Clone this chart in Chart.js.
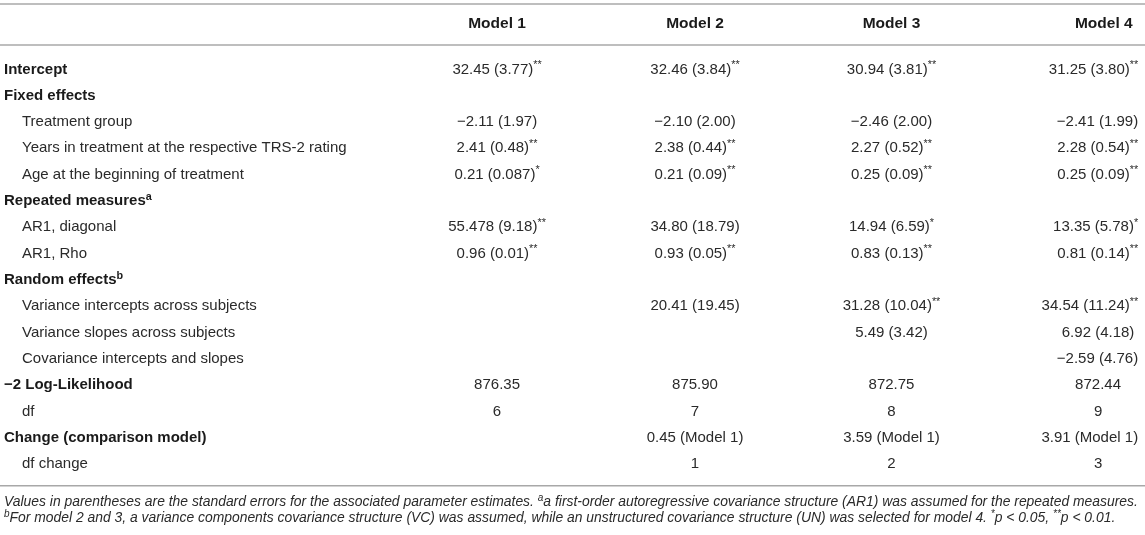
<!DOCTYPE html>
<html>
<head>
<meta charset="utf-8">
<script src="https://cdn.jsdelivr.net/npm/chart.js@4.4.1/dist/chart.umd.min.js"></script>
<style>
  html, body { margin: 0; padding: 0; background: #ffffff; }
  #wrap { width: 1145px; height: 535px; position: relative; }
</style>
</head>
<body>
<div id="wrap"><canvas id="c"></canvas></div>
<script>
// ---------- Data ----------
const models = ["Model 1", "Model 2", "Model 3", "Model 4"];

const rowLabels = [
  "Intercept",
  "Fixed effects",
  "Treatment group",
  "Years in treatment at the respective TRS-2 rating",
  "Age at the beginning of treatment",
  "Repeated measures^{a}",
  "AR1, diagonal",
  "AR1, Rho",
  "Random effects^{b}",
  "Variance intercepts across subjects",
  "Variance slopes across subjects",
  "Covariance intercepts and slopes",
  "\u22122 Log-Likelihood",
  "df",
  "Change (comparison model)",
  "df change"
];

// true = bold section heading, false = indented sub-row
const rowIsHeading = [true, true, false, false, false, true, false, false, true, false, false, false, true, false, true, false];

const model1 = ["32.45 (3.77)^{**}", "", "\u22122.11 (1.97)", "2.41 (0.48)^{**}", "0.21 (0.087)^{*}", "", "55.478 (9.18)^{**}", "0.96 (0.01)^{**}", "", "", "", "", "876.35", "6", "", ""];
const model2 = ["32.46 (3.84)^{**}", "", "\u22122.10 (2.00)", "2.38 (0.44)^{**}", "0.21 (0.09)^{**}", "", "34.80 (18.79)", "0.93 (0.05)^{**}", "", "20.41 (19.45)", "", "", "875.90", "7", "0.45 (Model 1)", "1"];
const model3 = ["30.94 (3.81)^{**}", "", "\u22122.46 (2.00)", "2.27 (0.52)^{**}", "0.25 (0.09)^{**}", "", "14.94 (6.59)^{*}", "0.83 (0.13)^{**}", "", "31.28 (10.04)^{**}", "5.49 (3.42)", "", "872.75", "8", "3.59 (Model 1)", "2"];
const model4 = ["31.25 (3.80)^{**}", "", "\u22122.41 (1.99)", "2.28 (0.54)^{**}", "0.25 (0.09)^{**}", "", "13.35 (5.78)^{*}", "0.81 (0.14)^{**}", "", "34.54 (11.24)^{**}", "6.92 (4.18)", "\u22122.59 (4.76)", "872.44", "9", "3.91 (Model 1)", "3"];

const footnotes = [
  "Values in parentheses are the standard errors for the associated parameter estimates. ^{a}a first-order autoregressive covariance structure (AR1) was assumed for the repeated measures.",
  "^{b}For model 2 and 3, a variance components covariance structure (VC) was assumed, while an unstructured covariance structure (UN) was selected for model 4. ^{*}p < 0.05, ^{**}p < 0.01."
];

// ---------- Layout / style ----------
const FONT = '"Liberation Sans", Arial, Helvetica, sans-serif';
const TEXT = '#2a2a2a';
const HEAD = '#1a1a1a';
const RULE = '#a8a8a8';
const SIZE = 15;
const HEAD_SIZE = 15.5;
const SUP = 0.72;
const colCenters = [0.4341, 0.6070, 0.7786, 0.9590];     // fraction of width
const headCenters = [0.4341, 0.6070, 0.7786, 0.9640];
const colRightLimit = 0.9940;

function parseRich(s) {
  const out = [];
  const re = /\^\{([^}]*)\}/g;
  let last = 0, m;
  while ((m = re.exec(s)) !== null) {
    if (m.index > last) out.push({ t: s.slice(last, m.index), sup: false });
    out.push({ t: m[1], sup: true });
    last = re.lastIndex;
  }
  if (last < s.length) out.push({ t: s.slice(last), sup: false });
  return out;
}

function fontStr(weight, style, size) {
  return `${style} ${weight} ${size}px ${FONT}`;
}

function richWidth(ctx, segs, weight, style, size) {
  let w = 0;
  for (const sg of segs) {
    ctx.font = fontStr(weight, style, sg.sup ? size * SUP : size);
    w += ctx.measureText(sg.t).width;
  }
  return w;
}

function drawRich(ctx, s, x, y, align, weight, style, size) {
  const segs = parseRich(s);
  const w = richWidth(ctx, segs, weight, style, size);
  let cx = x;
  if (align === 'center') cx = x - w / 2;
  else if (align === 'right') cx = x - w;
  ctx.textAlign = 'left';
  ctx.textBaseline = 'alphabetic';
  for (const sg of segs) {
    const sz = sg.sup ? size * SUP : size;
    ctx.font = fontStr(weight, style, sz);
    ctx.fillText(sg.t, cx, sg.sup ? y - size * 0.36 : y);
    cx += ctx.measureText(sg.t).width;
  }
  return w;
}

const tablePlugin = {
  id: 'tablePlugin',
  afterDraw(chart) {
    const ctx = chart.ctx;
    const xs = chart.scales.x;
    const ys = chart.scales.y;
    const W = chart.width;
    ctx.save();

    const rowPitch = ys.getPixelForValue(1) - ys.getPixelForValue(0);
    const firstRow = ys.getPixelForValue(0);
    const lastRow = ys.getPixelForValue(rowLabels.length - 1);
    const base = SIZE * 0.36; // baseline offset from row centre

    // rules
    ctx.strokeStyle = RULE;
    ctx.lineWidth = 1.5;
    const rule = (y) => { ctx.beginPath(); ctx.moveTo(0, y); ctx.lineTo(W, y); ctx.stroke(); };
    const topRule = firstRow - rowPitch * 2.44;
    const headRule = firstRow - rowPitch * 0.88;
    const headerY = firstRow - rowPitch * 1.72;
    const bottomRule = lastRow + rowPitch * 0.87;
    rule(topRule);
    rule(headRule);
    rule(bottomRule);

    // header
    ctx.fillStyle = HEAD;
    models.forEach((m, j) => {
      drawRich(ctx, m, xs.getPixelForValue(headCenters[j]), headerY + HEAD_SIZE * 0.36, 'center', 'bold', 'normal', HEAD_SIZE);
    });

    // rows
    const cols = [model1, model2, model3, model4];
    rowLabels.forEach((lab, i) => {
      const y = ys.getPixelForValue(i) + base;
      const heading = rowIsHeading[i];
      ctx.fillStyle = heading ? HEAD : TEXT;
      drawRich(ctx, lab, heading ? 4 : 22, y, 'left', heading ? 'bold' : 'normal', 'normal', SIZE);
      ctx.fillStyle = TEXT;
      cols.forEach((col, j) => {
        const v = col[i];
        if (!v) return;
        const segs = parseRich(v);
        const w = richWidth(ctx, segs, 'normal', 'normal', SIZE);
        let cx = xs.getPixelForValue(colCenters[j]);
        const lim = xs.getPixelForValue(colRightLimit);
        if (cx + w / 2 > lim) cx = lim - w / 2;
        drawRich(ctx, v, cx, y, 'center', 'normal', 'normal', SIZE);
      });
    });

    // footnotes
    const fSize = 13.9;
    ctx.fillStyle = TEXT;
    footnotes.forEach((f, k) => {
      drawRich(ctx, f, 4, bottomRule + 20 + k * 16, 'left', 'normal', 'italic', fSize);
    });
    ctx.restore();
  }
};

new Chart(document.getElementById('c'), {
  type: 'scatter',
  data: {
    labels: rowLabels,
    datasets: models.map((m, j) => ({
      label: m,
      data: rowLabels.map((_, i) => ({ x: colCenters[j], y: rowLabels[i] })),
      pointRadius: 0,
      pointHoverRadius: 0
    }))
  },
  options: {
    responsive: true,
    maintainAspectRatio: false,
    animation: false,
    events: [],
    layout: { padding: { top: 55, bottom: 59, left: 0, right: 0 } },
    plugins: { legend: { display: false }, tooltip: { enabled: false } },
    scales: {
      x: { type: 'linear', min: 0, max: 1, display: false },
      y: { type: 'category', labels: rowLabels, offset: true, display: false }
    }
  },
  plugins: [tablePlugin]
});
</script>
</body>
</html>
